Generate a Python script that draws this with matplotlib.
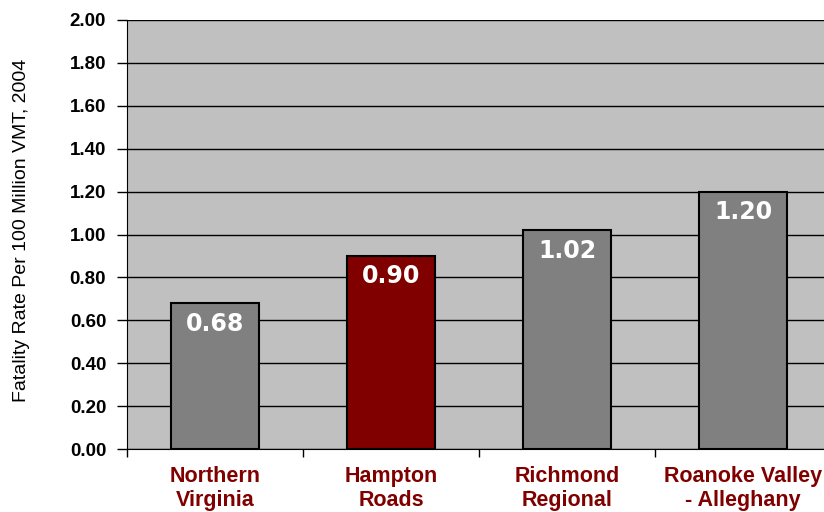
import matplotlib
matplotlib.use('Agg')
import matplotlib.pyplot as plt

# Data
regions = ['Northern\nVirginia', 'Hampton\nRoads', 'Richmond\nRegional', 'Roanoke Valley\n- Alleghany']
rates = [0.68, 0.90, 1.02, 1.20]
bar_colors = ['#808080', '#800000', '#808080', '#808080']
yticks = [0.0, 0.2, 0.4, 0.6, 0.8, 1.0, 1.2, 1.4, 1.6, 1.8, 2.0]

W, H = 824, 512
fig = plt.figure(figsize=(W / 100, H / 100), dpi=100)
# plot area runs off the right edge like the original
ax = fig.add_axes([127 / W, (H - 449) / H, 704 / W, 429 / H])
ax.set_facecolor('#C0C0C0')

x = list(range(len(regions)))
ax.bar(x, rates, width=0.5, color=bar_colors, edgecolor='black', linewidth=1.5, zorder=3)

for xi, v in zip(x, rates):
    ax.text(xi, v - 0.095, f'{v:.2f}', ha='center', va='center', color='white',
            fontsize=17, fontweight='bold', family='DejaVu Sans', zorder=4)

ax.set_xlim(-0.5, len(regions) - 0.5)
ax.set_ylim(0, 2.0)
ax.set_yticks(yticks)
ax.set_yticklabels([f'{t:.2f}' for t in yticks], fontsize=13.5, fontweight='bold',
                   family='Liberation Sans')
ax.yaxis.grid(True, color='black', linewidth=1)
ax.set_axisbelow(True)

ax.set_xticks([i - 0.5 for i in range(len(regions) + 1)])
ax.set_xticklabels([])
ax.set_xticks(x, minor=True)
ax.set_xticklabels(regions, minor=True, fontsize=15.5, fontweight='bold', color='#800000',
                   family='Liberation Sans', linespacing=1.18)
ax.tick_params(axis='x', which='minor', length=0, pad=12)
ax.tick_params(axis='x', which='major', length=6, width=1, direction='out')
ax.tick_params(axis='y', length=7, width=1, direction='out', pad=8)

for s in ['top', 'right']:
    ax.spines[s].set_visible(False)
ax.spines['left'].set_color('black')
ax.spines['bottom'].set_color('black')

fig.text(22 / W, 1 - 230 / H, 'Fatality Rate Per 100 Million VMT, 2004', rotation=90,
         ha='center', va='center', fontsize=14, family='Liberation Sans')

fig.savefig('out.png', dpi=100)
